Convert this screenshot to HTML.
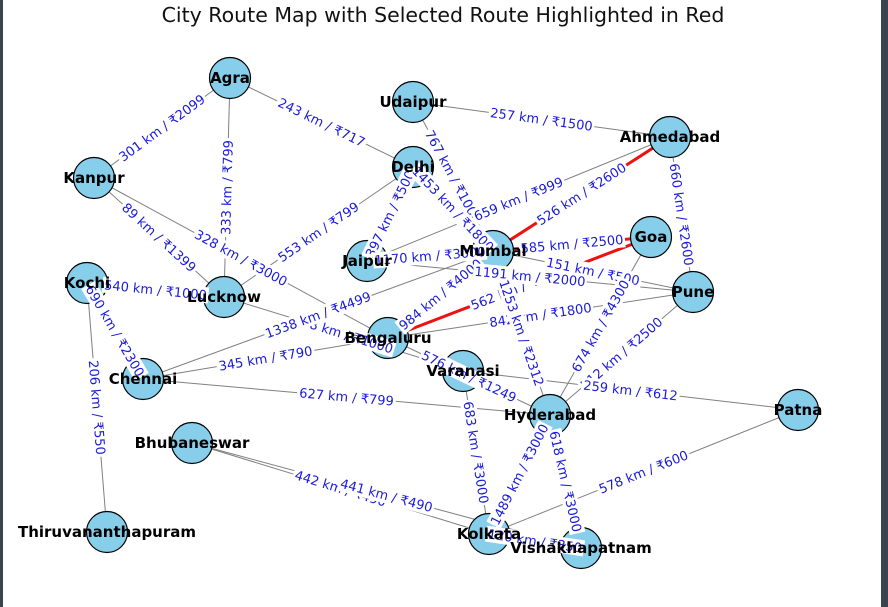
<!DOCTYPE html>
<html><head><meta charset="utf-8"><style>
html,body{margin:0;padding:0;width:888px;height:607px;overflow:hidden;background:#fff;}
.lf{position:absolute;left:0;top:0;width:3px;height:607px;background:#3a4450;}
.rf{position:absolute;right:0;top:0;width:7px;height:607px;background:#3a4450;}
</style></head><body>
<div class="lf"></div>
<div class="rf"></div>
<svg id="chart" width="888" height="607" xmlns="http://www.w3.org/2000/svg" style="position:absolute;left:0;top:0">
<text x="443" y="22" text-anchor="middle" font-family="DejaVu Sans, Liberation Sans, sans-serif" font-size="20.5" fill="#111">City Route Map with Selected Route Highlighted in Red</text>
<g id="edges"></g><g id="nodes"></g><g id="elabels"></g><g id="nlabels"></g>
</svg>
<script>
const cityNames=["Agra","Udaipur","Ahmedabad","Kanpur","Delhi","Goa","Jaipur","Mumbai","Kochi","Lucknow","Pune","Bengaluru","Varanasi","Chennai","Hyderabad","Patna","Bhubaneswar","Kolkata","Vishakhapatnam","Thiruvananthapuram"];
const cityX=[230,413,670,94,413,651,367,493,87,224,693,388,463,143,550,798,192,489,581,107];
const cityY=[78,102,137,178,167,237,261,251,283,297,292,338,371,379,415,410,443,534,548,532];
const routeFrom=["Agra","Agra","Agra","Udaipur","Udaipur","Ahmedabad","Ahmedabad","Ahmedabad","Kanpur","Kanpur","Delhi","Delhi","Delhi","Jaipur","Kochi","Lucknow","Bengaluru","Chennai","Chennai","Chennai","Kochi","Kochi","Bengaluru","Bengaluru","Bengaluru","Mumbai","Mumbai","Jaipur","Goa","Pune","Varanasi","Varanasi","Hyderabad","Hyderabad","Patna","Bhubaneswar","Bhubaneswar","Kolkata","Mumbai"];
const routeTo=["Kanpur","Delhi","Lucknow","Ahmedabad","Mumbai","Mumbai","Jaipur","Pune","Lucknow","Bengaluru","Lucknow","Jaipur","Mumbai","Mumbai","Lucknow","Varanasi","Hyderabad","Mumbai","Bengaluru","Hyderabad","Chennai","Thiruvananthapuram","Mumbai","Goa","Pune","Goa","Pune","Pune","Hyderabad","Hyderabad","Patna","Kolkata","Kolkata","Vishakhapatnam","Kolkata","Kolkata","Vishakhapatnam","Vishakhapatnam","Hyderabad"];
const routeKm=[301,243,333,257,767,526,659,660,89,328,553,397,1453,1170,540,298,576,1338,345,627,690,206,984,562,842,585,151,1191,674,512,259,683,1489,618,578,442,441,120,1253];
const routeCost=[2099,717,799,1500,1000,2600,999,2600,1399,3000,799,500,1800,3000,1000,1000,1249,4499,790,799,2300,550,4000,1200,1800,2500,500,2000,4300,2500,612,3000,3000,3000,600,490,490,350,2312];
const selectedRoute=["Bengaluru","Goa","Mumbai","Ahmedabad"];
const NS="http://www.w3.org/2000/svg";
const eg=document.getElementById('edges'),lg=document.getElementById('elabels'),ng=document.getElementById('nodes'),nl=document.getElementById('nlabels');
function idx(n){return cityNames.indexOf(n);}
function isSel(a,b){for(let i=0;i<selectedRoute.length-1;i++){const p=selectedRoute[i],q=selectedRoute[i+1];if((p===a&&q===b)||(p===b&&q===a))return true;}return false;}
for(let i=0;i<routeFrom.length;i++){
  const a=idx(routeFrom[i]),b=idx(routeTo[i]);
  const x1=cityX[a],y1=cityY[a],x2=cityX[b],y2=cityY[b];
  const sel=isSel(routeFrom[i],routeTo[i]);
  const ln=document.createElementNS(NS,'line');
  ln.setAttribute('x1',x1);ln.setAttribute('y1',y1);ln.setAttribute('x2',x2);ln.setAttribute('y2',y2);
  ln.setAttribute('stroke',sel?'#ee1111':'#808080');ln.setAttribute('stroke-width',sel?3:1);
  
  
  eg.appendChild(ln);
  const mx=(x1+x2)/2,my=(y1+y2)/2;
  let ang=Math.atan2(y2-y1,x2-x1)*180/Math.PI;
  if(ang>90)ang-=180;if(ang<-90)ang+=180;
  const g=document.createElementNS(NS,'g');
  g.setAttribute('transform','translate('+mx+','+my+') rotate('+ang+')');
  
  
  const label=routeKm[i]+' km / ₹'+routeCost[i];
  const w=label.length*7.6;
  const r=document.createElementNS(NS,'rect');
  r.setAttribute('x',-w/2);r.setAttribute('y',-8);r.setAttribute('width',w);r.setAttribute('height',16);r.setAttribute('fill','#fff');
  g.appendChild(r);
  const t=document.createElementNS(NS,'text');
  t.setAttribute('text-anchor','middle');t.setAttribute('y',4.5);
  t.setAttribute('font-family','DejaVu Sans, Liberation Sans, sans-serif');t.setAttribute('font-size','13');t.setAttribute('fill','#1a1adb');
  t.textContent=label;g.appendChild(t);
  lg.appendChild(g);
}
for(let i=0;i<cityNames.length;i++){
  const c=document.createElementNS(NS,'circle');
  
  
  c.setAttribute('cx',cityX[i]);c.setAttribute('cy',cityY[i]);c.setAttribute('r',20.5);
  c.setAttribute('fill','#87ceeb');c.setAttribute('stroke','#000');c.setAttribute('stroke-width',1.2);
  ng.appendChild(c);
  const t=document.createElementNS(NS,'text');
  
  
  t.setAttribute('x',cityX[i]);t.setAttribute('y',cityY[i]+5);t.setAttribute('text-anchor','middle');
  t.setAttribute('font-family','DejaVu Sans, Liberation Sans, sans-serif');t.setAttribute('font-size','15');t.setAttribute('font-weight','bold');t.setAttribute('fill','#000');
  t.textContent=cityNames[i];
  nl.appendChild(t);
}
</script>
</body></html>
